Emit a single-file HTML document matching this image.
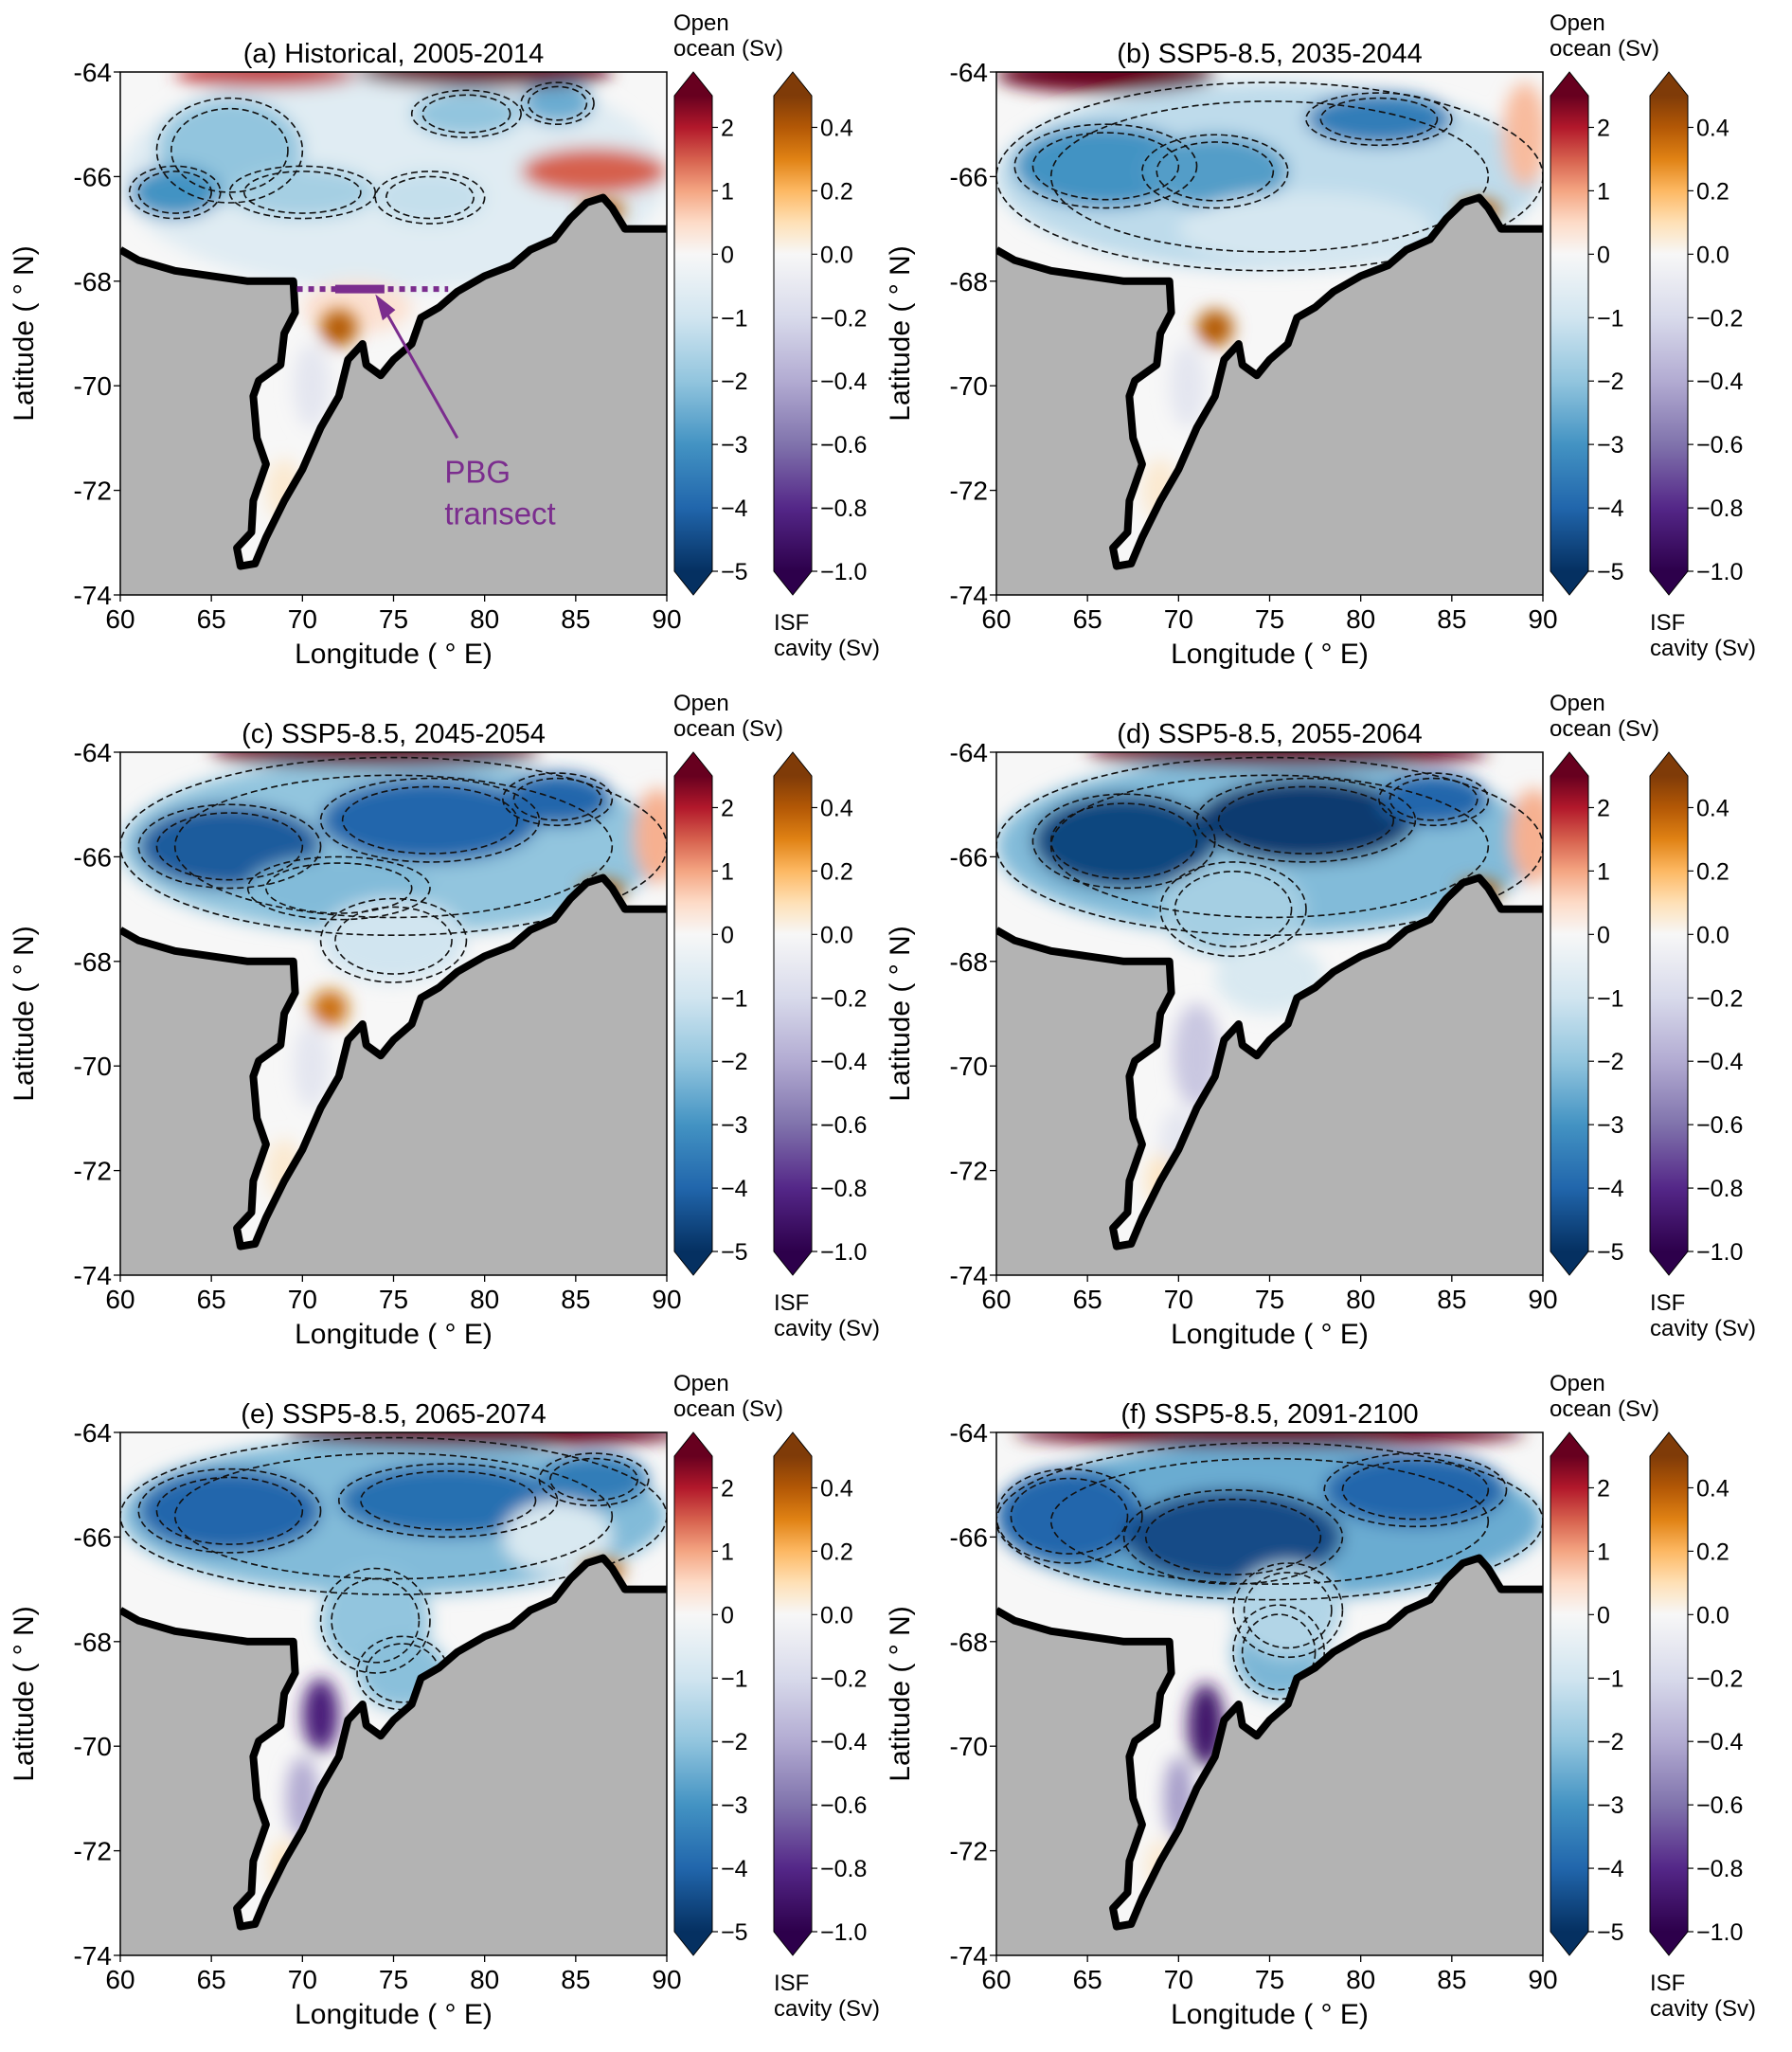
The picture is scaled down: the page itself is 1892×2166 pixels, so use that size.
<!DOCTYPE html>
<html><head><meta charset="utf-8">
<style>
body{margin:0;background:#fff;}
svg{display:block;font-family:"Liberation Sans","DejaVu Sans",sans-serif;}
</style></head>
<body>
<svg id="fig" width="1892" height="2166" viewBox="0 0 1892 2166" xmlns="http://www.w3.org/2000/svg">
<defs>
<filter id="blur" x="-50%" y="-50%" width="200%" height="200%"><feGaussianBlur stdDeviation="9"/></filter>
<linearGradient id="gradRdBu" x1="0" y1="1" x2="0" y2="0">
<stop offset="0" stop-color="#053061"/><stop offset="0.1333" stop-color="#2166ac"/><stop offset="0.2667" stop-color="#4393c3"/><stop offset="0.4" stop-color="#92c5de"/><stop offset="0.5333" stop-color="#d1e5f0"/><stop offset="0.6667" stop-color="#f7f7f7"/><stop offset="0.7333" stop-color="#fddbc7"/><stop offset="0.8" stop-color="#f4a582"/><stop offset="0.8667" stop-color="#d6604d"/><stop offset="0.9333" stop-color="#b2182b"/><stop offset="1" stop-color="#67001f"/>
</linearGradient>
<linearGradient id="gradPuOr" x1="0" y1="1" x2="0" y2="0">
<stop offset="0" stop-color="#2d004b"/><stop offset="0.1333" stop-color="#542788"/><stop offset="0.2667" stop-color="#8073ac"/><stop offset="0.4" stop-color="#b2abd2"/><stop offset="0.5333" stop-color="#d8daeb"/><stop offset="0.6667" stop-color="#f7f7f7"/><stop offset="0.7333" stop-color="#fee0b6"/><stop offset="0.8" stop-color="#fdb863"/><stop offset="0.8667" stop-color="#e08214"/><stop offset="0.9333" stop-color="#b35806"/><stop offset="1" stop-color="#7f3b08"/>
</linearGradient>
</defs>
</svg>
<script>
// ---- data ----
const panelTitles = ["(a) Historical, 2005-2014","(b) SSP5-8.5, 2035-2044","(c) SSP5-8.5, 2045-2054","(d) SSP5-8.5, 2055-2064","(e) SSP5-8.5, 2065-2074","(f) SSP5-8.5, 2091-2100"];
const xTicks = [60,65,70,75,80,85,90];
const yTicks = [-64,-66,-68,-70,-72,-74];
const oceanTicks = [2,1,0,-1,-2,-3,-4,-5];
const cavityTicks = [0.4,0.2,0.0,-0.2,-0.4,-0.6,-0.8,-1.0];
// open-ocean features per panel: [lon, lat, value(Sv), lonHalfWidth, latHalfWidth]
const oceanA = [[75,-66,-0.6,15,2.2],[66,-65.5,-2,4,1.0],[63,-66.3,-3,2.5,0.5],[70,-66.3,-1.7,4,0.5],[77,-66.4,-1.2,3,0.5],[79,-64.8,-2,3,0.45],[84,-64.6,-2.5,2,0.4],[86,-65.9,1.5,4,0.45],[73,-68.5,0.4,3,0.5],[80,-64,2.5,7,0.3],[68,-64.05,1.8,5,0.25]];
const oceanB = [[75,-66,-1.3,15,1.8],[66,-65.8,-3,5,0.8],[72,-65.9,-2.8,4,0.7],[81,-64.9,-3.5,4,0.5],[77,-67,-0.9,7,0.7],[66,-64.05,2.6,6,0.35],[89,-65.2,0.8,1.2,1.0]];
const oceanC = [[75,-65.8,-2,15,1.7],[66,-65.8,-4.2,5,0.8],[77,-65.3,-4,6,0.8],[84,-64.9,-4,3,0.5],[72,-66.6,-2.2,5,0.6],[75,-67.6,-1,4,0.8],[89.5,-65.6,0.9,1.3,0.9],[74,-64,2.6,9,0.28]];
const oceanD = [[75,-65.8,-2.2,15,1.7],[67,-65.7,-4.6,5,0.9],[77,-65.3,-4.8,6,0.8],[84,-64.9,-4,3,0.5],[73,-67,-1.7,4,0.9],[75,-68.3,-0.8,3,0.7],[89.5,-65.6,0.9,1.3,0.9],[76,-64,2.6,11,0.28]];
const oceanE = [[75,-65.6,-2.2,15,1.5],[66,-65.5,-4,5,0.8],[78,-65.3,-3.8,6,0.7],[86,-64.9,-3.5,3,0.5],[74,-67.6,-2,3,1.0],[75.5,-68.6,-2.1,2.5,0.7],[84,-66,-0.8,3,0.7],[80,-64,2.6,11,0.28]];
const oceanF = [[75,-65.7,-2.5,15,1.5],[64,-65.6,-4,4,0.9],[73,-66,-4.5,6,0.9],[83,-65.1,-4,5,0.7],[75.5,-68.2,-2.3,2.5,0.9],[76,-67.4,-1.5,3,0.9],[75,-64,2.6,14,0.28]];
const oceanData = [oceanA,oceanB,oceanC,oceanD,oceanE,oceanF];
// ice-shelf cavity features per panel: [lon, lat, value(Sv), lonHalfWidth, latHalfWidth]
const cavA = [[72,-68.9,0.4,1.0,0.35],[70.5,-70,-0.12,1,0.8],[86.5,-66.65,0.4,1.2,0.2],[69,-72,0.06,1,0.6]];
const cavB = [[72,-68.9,0.4,1.0,0.35],[70.5,-70,-0.12,1,0.8],[86.5,-66.65,0.4,1.2,0.2],[69,-72,0.06,1,0.6]];
const cavC = [[71.5,-68.9,0.35,1.0,0.35],[70.5,-70,-0.12,1,0.8],[86.5,-66.65,0.4,1.2,0.2],[69,-72,0.06,1,0.6]];
const cavD = [[71,-69.8,-0.28,1.3,1.0],[70,-71.5,-0.12,1,0.7],[86.5,-66.65,0.4,1.2,0.2],[69,-72.2,0.08,0.8,0.5]];
const cavE = [[71,-69.4,-0.85,1.0,0.7],[70,-71,-0.4,0.9,0.8],[86.5,-66.65,0.4,1.2,0.2],[69,-72.3,0.08,0.8,0.5]];
const cavF = [[71.5,-69.6,-0.9,1.0,0.8],[70,-71,-0.45,0.8,0.8],[69,-72.3,0.06,0.8,0.5]];
const cavData = [cavA,cavB,cavC,cavD,cavE,cavF];
const coastLon = [60,61,63,65,67,69.5,69.6,69,68.8,67.6,67.3,67.5,68,67.3,67.2,66.4,66.6,67.4,68,69,70,71,72,72.5,73.3,73.5,74.3,75,76,76.5,77.5,78.5,80,81.5,82.5,83.8,84.7,85.6,86.5,87,87.7,90];
const coastLat = [-67.4,-67.6,-67.8,-67.9,-68,-68,-68.6,-69,-69.6,-69.9,-70.2,-71,-71.5,-72.2,-72.8,-73.1,-73.45,-73.4,-72.9,-72.2,-71.6,-70.8,-70.2,-69.5,-69.2,-69.6,-69.8,-69.5,-69.2,-68.7,-68.5,-68.2,-67.9,-67.7,-67.4,-67.2,-66.8,-66.5,-66.4,-66.6,-67,-67];

// ---- layout ----
const NS="http://www.w3.org/2000/svg";
const svg=document.getElementById('fig');
const colX=[127,1052], rowY=[76,794,1512], AW=577, AH=552;
function mk(tag,attrs,parent){const e=document.createElementNS(NS,tag);for(const k in attrs)e.setAttribute(k,attrs[k]);(parent||svg).appendChild(e);return e;}
function txt(s,attrs,parent){const e=mk('text',attrs,parent);e.textContent=s;return e;}
function lerpCol(stops,v){for(let i=0;i<stops.length-1;i++){const a=stops[i],b=stops[i+1];if(v>=a[0]&&v<=b[0]){const t=(v-a[0])/(b[0]-a[0]);const c=[0,1,2].map(j=>Math.round(a[1][j]+(b[1][j]-a[1][j])*t));return `rgb(${c})`;}}return v<stops[0][0]?`rgb(${stops[0][1]})`:`rgb(${stops[stops.length-1][1]})`;}
const rdbu=[[-5,[5,48,97]],[-4,[33,102,172]],[-3,[67,147,195]],[-2,[146,197,222]],[-1,[209,229,240]],[0,[247,247,247]],[0.5,[253,219,199]],[1,[244,165,130]],[1.5,[214,96,77]],[2,[178,24,43]],[2.5,[103,0,31]]];
const puor=[[-1,[45,0,75]],[-0.8,[84,39,136]],[-0.6,[128,115,172]],[-0.4,[178,171,210]],[-0.2,[216,218,235]],[0,[247,247,247]],[0.1,[254,224,182]],[0.2,[253,184,99]],[0.3,[224,130,20]],[0.4,[179,88,6]],[0.5,[127,59,8]]];

for(let p=0;p<6;p++){
  const X0=colX[p%2], Y0=rowY[Math.floor(p/2)];
  const sx=lon=>X0+(lon-60)/30*AW;
  const sy=lat=>Y0+(-64-lat)/10*AH;
  const g=mk('g',{});
  
  
  const clipId='clip'+p;
  const cp=mk('clipPath',{id:clipId},g);mk('rect',{x:X0,y:Y0,width:AW,height:AH},cp);
  const plot=mk('g',{'clip-path':`url(#${clipId})`},g);
  mk('rect',{x:X0,y:Y0,width:AW,height:AH,fill:'#f7f7f7'},plot);
  const field=mk('g',{filter:'url(#blur)'},plot);
  
  
  oceanData[p].forEach(d=>{
    const e=mk('ellipse',{cx:sx(d[0]),cy:sy(d[1]),rx:d[3]/30*AW,ry:d[4]/10*AH,fill:lerpCol(rdbu,d[2])},field);
    
    
  });
  const cf=mk('g',{filter:'url(#blur)'},plot);
  cavData[p].forEach(d=>{
    const e=mk('ellipse',{cx:sx(d[0]),cy:sy(d[1]),rx:d[3]/30*AW,ry:d[4]/10*AH,fill:lerpCol(puor,d[2])},cf);
    
    
  });
  // contour-like dashed outlines
  oceanData[p].forEach(d=>{
    if(d[2]<-0.9){
      [1.0,0.8].forEach(f=>{
      const e=mk('ellipse',{cx:sx(d[0]),cy:sy(d[1]),rx:d[3]/30*AW*f,ry:d[4]/10*AH*f,fill:'none',stroke:'#111','stroke-width':1.6,'stroke-dasharray':'7,4'},plot);
      
      });
    }
  });
  let pts=coastLon.map((lo,i)=>`${sx(lo).toFixed(1)},${sy(coastLat[i]).toFixed(1)}`);
  const land=mk('polygon',{points:pts.join(' ')+` ${sx(90)},${sy(-74.5)} ${sx(60)},${sy(-74.5)}`,fill:'#b3b3b3',stroke:'none'},plot);
  
  
  const coast=mk('polyline',{points:pts.join(' '),fill:'none',stroke:'#000','stroke-width':8,'stroke-linejoin':'round'},plot);
  
  
  const frame=mk('rect',{x:X0,y:Y0,width:AW,height:AH,fill:'none',stroke:'#000','stroke-width':1.5},g);
  
  
  // ticks
  xTicks.forEach(t=>{mk('line',{x1:sx(t),x2:sx(t),y1:Y0+AH,y2:Y0+AH+7,stroke:'#000','stroke-width':1.3},g);
    const l=txt(String(t),{x:sx(t),y:Y0+AH+35,'font-size':28,'text-anchor':'middle'},g);
    
    });
  yTicks.forEach(t=>{mk('line',{x1:X0-7,x2:X0,y1:sy(t),y2:sy(t),stroke:'#000','stroke-width':1.3},g);
    const l=txt(String(t),{x:X0-9,y:sy(t)+10,'font-size':28,'text-anchor':'end'},g);
    
    });
  const xl=txt('Longitude ( ° E)',{x:X0+AW/2,y:Y0+AH+72,'font-size':30,'text-anchor':'middle'},g);
  
  
  const yl=txt('Latitude ( ° N)',{x:0,y:0,'font-size':30,'text-anchor':'middle',transform:`translate(${X0-92},${Y0+AH/2}) rotate(-90)`},g);
  
  
  const ti=txt(panelTitles[p],{x:X0+AW/2,y:Y0-10,'font-size':29,'text-anchor':'middle'},g);
  
  
  // colorbars
  [[585,'gradRdBu',oceanTicks,v=>(2.5-v)/7.5],[690,'gradPuOr',cavityTicks,v=>(0.5-v)/1.5]].forEach((c,ci)=>{
    const bx=X0+c[0], bw=40, top=Y0+25, bot=Y0+AH-25, h=bot-top;
    const cb=mk('g',{},g);
    
    
    mk('rect',{x:bx,y:top,width:bw,height:h,fill:`url(#${c[1]})`},cb);
    mk('polygon',{points:`${bx},${top} ${bx+bw/2},${Y0} ${bx+bw},${top}`,fill:ci?'#7f3b08':'#67001f'},cb);
    mk('polygon',{points:`${bx},${bot} ${bx+bw/2},${Y0+AH} ${bx+bw},${bot}`,fill:ci?'#2d004b':'#053061'},cb);
    mk('polygon',{points:`${bx},${top} ${bx+bw/2},${Y0} ${bx+bw},${top} ${bx+bw},${bot} ${bx+bw/2},${Y0+AH} ${bx},${bot}`,fill:'none',stroke:'#000','stroke-width':1},cb);
    c[2].forEach(t=>{const y=top+c[3](t)*h;mk('line',{x1:bx+bw,x2:bx+bw+6,y1:y,y2:y,stroke:'#000','stroke-width':1.2},cb);
      const s=ci?t.toFixed(1):String(t);
      const l=txt(s.replace('-','−'),{x:bx+bw+9,y:y+9,'font-size':25},cb);
      
      });
  });
  const ol=txt('Open',{x:X0+584,y:Y0-44,'font-size':24,'text-anchor':'start'},g);
  
  
  txt('ocean (Sv)',{x:X0+584,y:Y0-17,'font-size':24},g);
  const il=txt('ISF',{x:X0+690,y:Y0+AH+37,'font-size':24},g);
  
  
  txt('cavity (Sv)',{x:X0+690,y:Y0+AH+64,'font-size':24},g);
  if(p===0){
    const pc='#7b2d8e';
    const an=mk('g',{},g);
    
    
    mk('line',{x1:sx(69.7),x2:sx(78),y1:sy(-68.15),y2:sy(-68.15),stroke:pc,'stroke-width':6,'stroke-dasharray':'6,6'},an);
    mk('line',{x1:sx(71.8),x2:sx(74.5),y1:sy(-68.15),y2:sy(-68.15),stroke:pc,'stroke-width':9},an);
    mk('line',{x1:sx(78.5),y1:sy(-71),x2:sx(74.2),y2:sy(-68.35),stroke:pc,'stroke-width':3},an);
    mk('polygon',{points:`${sx(74)},${sy(-68.25)} ${sx(74.4)},${sy(-68.75)} ${sx(75.1)},${sy(-68.55)}`,fill:pc},an);
    txt('PBG',{x:sx(77.8),y:sy(-71.85),'font-size':33,fill:pc},an);
    txt('transect',{x:sx(77.8),y:sy(-72.65),'font-size':33,fill:pc},an);
  }
}
</script>
</body></html>
